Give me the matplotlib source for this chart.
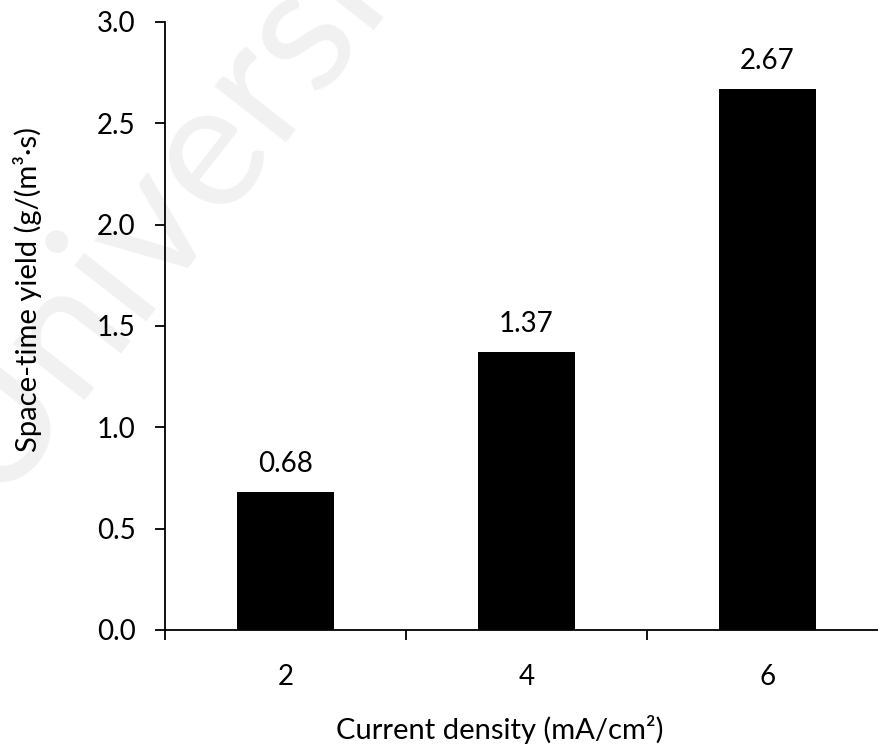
import matplotlib
matplotlib.use("Agg")
import matplotlib.pyplot as plt
import numpy as np

plt.rcParams['font.family'] = ['Lato', 'DejaVu Sans']

categories = ["2", "4", "6"]
yield_values = [0.68, 1.37, 2.67]
value_labels = ["0.68", "1.37", "2.67"]
y_ticks = [0.0, 0.5, 1.0, 1.5, 2.0, 2.5, 3.0]
y_tick_labels = ["0.0", "0.5", "1.0", "1.5", "2.0", "2.5", "3.0"]

W, H = 879, 749
fig = plt.figure(figsize=(W / 100, H / 100), dpi=100)

# faint background watermark, kept behind the axes
fig.text(0.17, 0.71, "Universi", rotation=52, fontsize=128, color="#f1f1f1",
         ha="center", va="center", zorder=-1)

ax = fig.add_axes([165 / W, 1 - 630 / H, (888 - 165) / W, (630 - 22) / H])
ax.set_facecolor("none")

x = np.arange(len(categories))
ax.bar(x, yield_values, width=0.4, color="black", zorder=3)
for xi, v, lab in zip(x, yield_values, value_labels):
    ax.annotate(lab, (xi, v), xytext=(0, 11), textcoords="offset points",
                ha="center", va="bottom", fontsize=20)

ax.set_xlim(-0.5, len(categories) - 0.5)
ax.set_ylim(0, 3.0)

ax.set_yticks(y_ticks)
ax.set_yticklabels(y_tick_labels, fontsize=20)
ax.tick_params(axis="y", direction="out", length=7, width=1.3, pad=14)

# category labels between boundary ticks
ax.set_xticks(np.arange(-0.5, len(categories) + 0.5, 1.0))
ax.set_xticklabels([""] * (len(categories) + 1))
ax.set_xticks(x, minor=True)
ax.set_xticklabels(categories, minor=True, fontsize=20)
ax.tick_params(axis="x", which="major", direction="out", length=7, width=1.3)
ax.tick_params(axis="x", which="minor", length=0, pad=24.5)

for side in ("top", "right"):
    ax.spines[side].set_visible(False)
for side in ("left", "bottom"):
    ax.spines[side].set_linewidth(1.3)

fig.text(500 / W, 1 - 730 / H, "Current density (mA/cm²)", ha="center",
         va="center", fontsize=21)
fig.text(28 / W, 1 - 289 / H, "Space-time yield (g/(m³·s)", rotation=90,
         ha="center", va="center", fontsize=21)

fig.savefig("out.png", dpi=100)
